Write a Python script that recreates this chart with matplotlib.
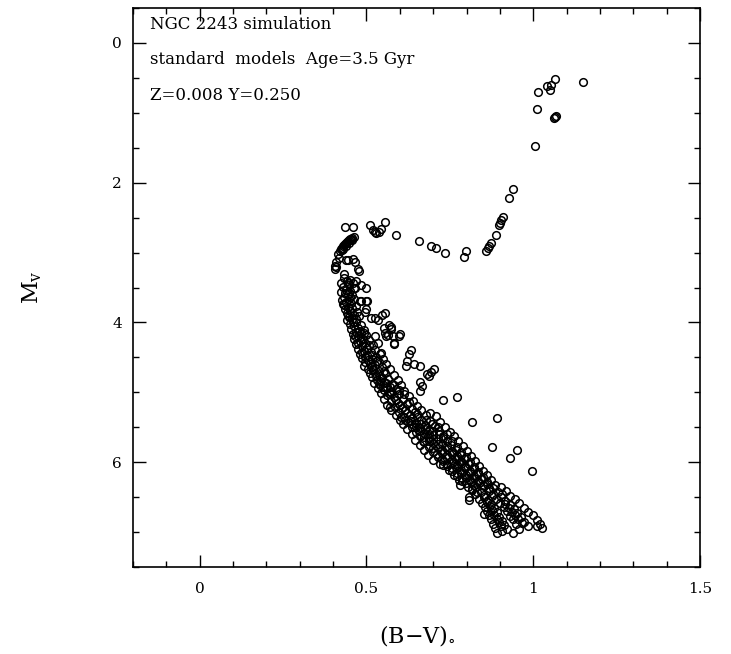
import matplotlib
matplotlib.use("Agg")
import matplotlib.pyplot as plt
from matplotlib.ticker import MultipleLocator, FixedLocator

# giant branch + red clump (B-V, Mv)
giants = [
    (1.150, 0.555), (1.064, 0.52), (1.040, 0.61), (1.052, 0.60), (1.050, 0.68),
    (1.014, 0.70), (1.012, 0.95), (1.069, 1.05), (1.062, 1.08), (1.065, 1.06),
    (1.006, 1.48), (0.940, 2.09), (0.928, 2.22), (0.908, 2.49), (0.902, 2.53),
    (0.900, 2.57), (0.898, 2.61), (0.887, 2.75), (0.873, 2.87), (0.867, 2.90),
    (0.863, 2.93), (0.859, 2.98), (0.799, 2.98), (0.793, 3.07), (0.734, 3.00),
]

# subgiant branch
subgiants = [
    (0.437, 2.64), (0.459, 2.64), (0.512, 2.60), (0.555, 2.56), (0.520, 2.68),
    (0.530, 2.72), (0.537, 2.70), (0.543, 2.66), (0.525, 2.71), (0.590, 2.75),
    (0.658, 2.83), (0.693, 2.90), (0.708, 2.94),
]

# turnoff region
turnoff = [
    (0.420, 2.98), (0.424, 2.95), (0.428, 2.93), (0.431, 2.91), (0.434, 2.89),
    (0.437, 2.88), (0.440, 2.86), (0.443, 2.85), (0.446, 2.83), (0.449, 2.82),
    (0.452, 2.81), (0.455, 2.80), (0.458, 2.79), (0.462, 2.78), (0.430, 2.95),
    (0.438, 2.90), (0.447, 2.86), (0.456, 2.82), (0.426, 2.97), (0.416, 3.02),
    (0.417, 3.08), (0.410, 3.14), (0.406, 3.19), (0.405, 3.24), (0.440, 3.10),
    (0.460, 3.09), (0.467, 3.14), (0.475, 3.24), (0.433, 3.30), (0.470, 3.40),
    (0.485, 3.47), (0.500, 3.50), (0.483, 3.69), (0.503, 3.69), (0.467, 3.50),
    (0.408, 3.21), (0.478, 3.27), (0.446, 3.11),
]

# main sequence, upper part
ms_upper = [
    (0.433, 3.37), (0.451, 3.39), (0.441, 3.41), (0.425, 3.44), (0.459, 3.43),
    (0.447, 3.47), (0.431, 3.49), (0.462, 3.51), (0.438, 3.53), (0.452, 3.55),
    (0.423, 3.57), (0.444, 3.60), (0.458, 3.61), (0.432, 3.63), (0.449, 3.66),
    (0.426, 3.68), (0.463, 3.67), (0.440, 3.71), (0.455, 3.72), (0.433, 3.75),
    (0.468, 3.76), (0.446, 3.78), (0.437, 3.81), (0.458, 3.80), (0.451, 3.84),
    (0.472, 3.85), (0.441, 3.87), (0.462, 3.90), (0.448, 3.92), (0.479, 3.91),
    (0.456, 3.95), (0.443, 3.97), (0.469, 3.99), (0.452, 4.02), (0.485, 4.03),
    (0.463, 4.05), (0.475, 4.08), (0.455, 4.10), (0.492, 4.11), (0.468, 4.13),
    (0.483, 4.15), (0.459, 4.17), (0.500, 4.18), (0.474, 4.20), (0.489, 4.23),
    (0.464, 4.24), (0.508, 4.25), (0.481, 4.27), (0.496, 4.29), (0.470, 4.31),
    (0.519, 4.32), (0.488, 4.34), (0.534, 4.30),
    (0.503, 4.36), (0.476, 4.38), (0.526, 4.39), (0.493, 4.41), (0.513, 4.43),
    (0.481, 4.45), (0.545, 4.44), (0.503, 4.47), (0.530, 4.49), (0.488, 4.51),
    (0.518, 4.53), (0.551, 4.52), (0.497, 4.56), (0.538, 4.57), (0.510, 4.59),
    (0.493, 4.62), (0.527, 4.61), (0.560, 4.60), (0.546, 4.64), (0.505, 4.66),
    (0.520, 4.68), (0.571, 4.67), (0.538, 4.70), (0.511, 4.72), (0.556, 4.73),
    (0.529, 4.76), (0.583, 4.75), (0.518, 4.78), (0.547, 4.79), (0.566, 4.81),
    (0.531, 4.83), (0.594, 4.82), (0.554, 4.85), (0.524, 4.87), (0.576, 4.88),
    (0.542, 4.90), (0.605, 4.89), (0.562, 4.92), (0.535, 4.94), (0.588, 4.95),
    (0.553, 4.97), (0.612, 4.98), (0.572, 4.99), (0.545, 5.01),
    (0.446, 3.44), (0.437, 3.58), (0.452, 3.63), (0.429, 3.73), (0.445, 3.89),
    (0.458, 3.86), (0.470, 3.95), (0.460, 4.00), (0.478, 4.12), (0.466, 4.19),
    (0.494, 4.15), (0.476, 4.30), (0.507, 4.33), (0.486, 4.43), (0.517, 4.46),
    (0.496, 4.49), (0.533, 4.55), (0.506, 4.54), (0.518, 4.64), (0.552, 4.69),
    (0.527, 4.72), (0.541, 4.77), (0.560, 4.86), (0.538, 4.86), (0.571, 4.93),
    (0.549, 4.92), (0.583, 4.90), (0.598, 4.97),
]

# main sequence, middle part
ms_middle = [
    (0.598, 5.02), (0.563, 5.04), (0.627, 5.05), (0.582, 5.07), (0.554, 5.09),
    (0.610, 5.10), (0.639, 5.12), (0.573, 5.13), (0.594, 5.15), (0.622, 5.17),
    (0.563, 5.18), (0.651, 5.19), (0.586, 5.21), (0.607, 5.22), (0.636, 5.24),
    (0.575, 5.26), (0.664, 5.26), (0.598, 5.28), (0.621, 5.30), (0.650, 5.31),
    (0.588, 5.33), (0.678, 5.32), (0.612, 5.35), (0.707, 5.34), (0.636, 5.37),
    (0.600, 5.39), (0.663, 5.39), (0.690, 5.41), (0.624, 5.43), (0.648, 5.44),
    (0.721, 5.42), (0.611, 5.46), (0.676, 5.47), (0.704, 5.48), (0.637, 5.50),
    (0.660, 5.51), (0.735, 5.50), (0.623, 5.53), (0.688, 5.54), (0.716, 5.56),
    (0.648, 5.57), (0.672, 5.58), (0.749, 5.57), (0.636, 5.60), (0.700, 5.61),
    (0.729, 5.62),
    (0.660, 5.63), (0.762, 5.63), (0.686, 5.65), (0.713, 5.67), (0.647, 5.68),
    (0.741, 5.69), (0.775, 5.70), (0.673, 5.71), (0.699, 5.73), (0.727, 5.74),
    (0.660, 5.76), (0.754, 5.75), (0.788, 5.77), (0.686, 5.78), (0.713, 5.80),
    (0.741, 5.81), (0.672, 5.83), (0.768, 5.82), (0.800, 5.84), (0.700, 5.85),
    (0.727, 5.87), (0.755, 5.88), (0.685, 5.90), (0.782, 5.89), (0.812, 5.91),
    (0.713, 5.92), (0.741, 5.94), (0.768, 5.95), (0.698, 5.97), (0.795, 5.96),
    (0.825, 5.98), (0.728, 5.99), (0.756, 6.01), (0.782, 6.02), (0.728, 6.04),
    (0.808, 6.03), (0.836, 6.05), (0.742, 6.06), (0.770, 6.08), (0.796, 6.09),
    (0.748, 6.11), (0.821, 6.10), (0.848, 6.12), (0.757, 6.13), (0.784, 6.15),
    (0.809, 6.16), (0.762, 6.18), (0.834, 6.17), (0.860, 6.19), (0.772, 6.20),
    (0.798, 6.22), (0.822, 6.23), (0.778, 6.25), (0.846, 6.24), (0.872, 6.26),
    (0.787, 6.27), (0.812, 6.29), (0.836, 6.30), (0.779, 6.32), (0.860, 6.31),
    (0.886, 6.33),
    (0.575, 5.00), (0.612, 5.03), (0.589, 5.11), (0.628, 5.14), (0.600, 5.18),
    (0.570, 5.21), (0.615, 5.26), (0.645, 5.28), (0.632, 5.33), (0.690, 5.30),
    (0.605, 5.36), (0.652, 5.36), (0.677, 5.39), (0.617, 5.40), (0.637, 5.45),
    (0.662, 5.45), (0.696, 5.45), (0.648, 5.49), (0.674, 5.52), (0.714, 5.50),
    (0.700, 5.55), (0.660, 5.55), (0.686, 5.60), (0.717, 5.59), (0.742, 5.60),
    (0.672, 5.64), (0.700, 5.67), (0.728, 5.66), (0.755, 5.70), (0.687, 5.70),
    (0.714, 5.74), (0.742, 5.77), (0.770, 5.78), (0.700, 5.80), (0.727, 5.82),
    (0.756, 5.84), (0.784, 5.85), (0.712, 5.88), (0.742, 5.90), (0.770, 5.91),
    (0.797, 5.92), (0.727, 5.95), (0.755, 5.97), (0.782, 5.98), (0.810, 6.00),
    (0.742, 6.02), (0.770, 6.04), (0.796, 6.05), (0.822, 6.07), (0.757, 6.09),
    (0.784, 6.11), (0.810, 6.13), (0.835, 6.14), (0.772, 6.16), (0.798, 6.18),
    (0.822, 6.20), (0.848, 6.21), (0.786, 6.23), (0.810, 6.25), (0.834, 6.27),
    (0.860, 6.28), (0.798, 6.30), (0.823, 6.33), (0.848, 6.33),
]

# main sequence, lower part
ms_lower = [
    (0.805, 6.35), (0.829, 6.36), (0.853, 6.34), (0.878, 6.37), (0.902, 6.36),
    (0.816, 6.40), (0.842, 6.42), (0.866, 6.41), (0.893, 6.43), (0.918, 6.41),
    (0.826, 6.46), (0.851, 6.47), (0.877, 6.49), (0.905, 6.46), (0.931, 6.48),
    (0.838, 6.52), (0.864, 6.54), (0.889, 6.52), (0.916, 6.55), (0.944, 6.53),
    (0.846, 6.58), (0.872, 6.60), (0.900, 6.59), (0.929, 6.61), (0.957, 6.58),
    (0.855, 6.64), (0.883, 6.66), (0.911, 6.64), (0.942, 6.67), (0.971, 6.65),
    (0.861, 6.70), (0.890, 6.72), (0.920, 6.70), (0.952, 6.73), (0.985, 6.71),
    (0.868, 6.76), (0.898, 6.78), (0.930, 6.77), (0.963, 6.79), (0.998, 6.76),
    (0.874, 6.82), (0.906, 6.84), (0.938, 6.82), (0.972, 6.85), (1.010, 6.83),
    (0.880, 6.88), (0.913, 6.90), (0.947, 6.88), (0.984, 6.91), (1.020, 6.89),
    (0.886, 6.94), (0.920, 6.96), (0.957, 6.95), (1.026, 6.94), (0.891, 7.01),
    (0.940, 7.02), (0.905, 6.99),
    (0.817, 6.38), (0.866, 6.37), (0.830, 6.43), (0.880, 6.45), (0.851, 6.50),
    (0.902, 6.50), (0.862, 6.57), (0.915, 6.60), (0.870, 6.63), (0.926, 6.66),
    (0.876, 6.69), (0.937, 6.71), (0.883, 6.75), (0.946, 6.76), (0.892, 6.81),
    (0.955, 6.82), (0.897, 6.86), (0.965, 6.87), (0.903, 6.92), (1.012, 6.92),
]

# stars scattered to the red of the main sequence
scatter = [
    (0.480, 3.70), (0.500, 3.69), (0.497, 3.85), (0.515, 3.94), (0.535, 3.96),
    (0.555, 3.86), (0.547, 3.90), (0.553, 4.08), (0.573, 4.07), (0.565, 4.18),
    (0.580, 4.19), (0.597, 4.20), (0.583, 4.31), (0.633, 4.39), (0.627, 4.45),
    (0.623, 4.55), (0.643, 4.60), (0.660, 4.63), (0.620, 4.63), (0.680, 4.74),
    (0.693, 4.71), (0.703, 4.67), (0.687, 4.77), (0.660, 4.85), (0.665, 4.91),
    (0.660, 4.98), (0.730, 5.11), (0.770, 5.07), (0.815, 5.42), (0.890, 5.37),
    (0.875, 5.78), (0.952, 5.82), (0.930, 5.94), (0.996, 6.13), (0.808, 6.50),
    (0.808, 6.54), (0.852, 6.74), (0.540, 4.45), (0.520, 4.67), (0.540, 4.84),
    (0.570, 5.02), (0.635, 5.41), (0.670, 5.70), (0.720, 6.02), (0.765, 6.02),
    (0.498, 3.81), (0.525, 3.93), (0.568, 4.03), (0.575, 4.10), (0.600, 4.17),
    (0.558, 4.20), (0.555, 4.15), (0.582, 4.29), (0.525, 4.20),
]

stars = giants + subgiants + turnoff + ms_upper + ms_middle + ms_lower + scatter
bv = [p[0] for p in stars]
mv = [p[1] for p in stars]

plt.rcParams["font.family"] = "DejaVu Serif"
plt.rcParams["mathtext.fontset"] = "dejavuserif"

fig = plt.figure(figsize=(7.31, 6.54), dpi=100)
ax = fig.add_axes([133 / 731, 87 / 654, 567 / 731, 559 / 654])

ax.plot(bv, mv, "o", mfc="none", mec="black", ms=5.5, mew=1.1)

ax.set_xlim(-0.2, 1.5)
ax.set_ylim(7.5, -0.5)

ax.xaxis.set_major_locator(FixedLocator([0, 0.5, 1, 1.5]))
ax.set_xticklabels(["0", "0.5", "1", "1.5"])
ax.xaxis.set_minor_locator(MultipleLocator(0.1))
ax.yaxis.set_major_locator(FixedLocator([0, 2, 4, 6]))
ax.yaxis.set_minor_locator(MultipleLocator(0.5))

ax.tick_params(which="both", direction="in", top=True, right=True, width=1)
ax.tick_params(which="major", length=9, labelsize=11)
ax.tick_params(which="minor", length=4.5)
ax.tick_params(axis="x", which="major", pad=11)
ax.tick_params(axis="y", which="major", pad=8)
for s in ax.spines.values():
    s.set_linewidth(1.2)

ax.text(0.030, 0.970, "NGC 2243 simulation", transform=ax.transAxes,
        fontsize=12, va="center")
ax.text(0.030, 0.907, "standard  models  Age=3.5 Gyr", transform=ax.transAxes,
        fontsize=12, va="center")
ax.text(0.030, 0.844, "Z=0.008 Y=0.250", transform=ax.transAxes,
        fontsize=12, va="center")

fig.text(417 / 731, 1 - 635 / 654, r"(B$-$V)$_{\circ}$", fontsize=16,
         ha="center", va="center")
fig.text(32 / 731, 1 - 287 / 654, r"M$_{\rm v}$", fontsize=16, rotation=90,
         ha="center", va="center")

fig.savefig("out.png", dpi=100)
